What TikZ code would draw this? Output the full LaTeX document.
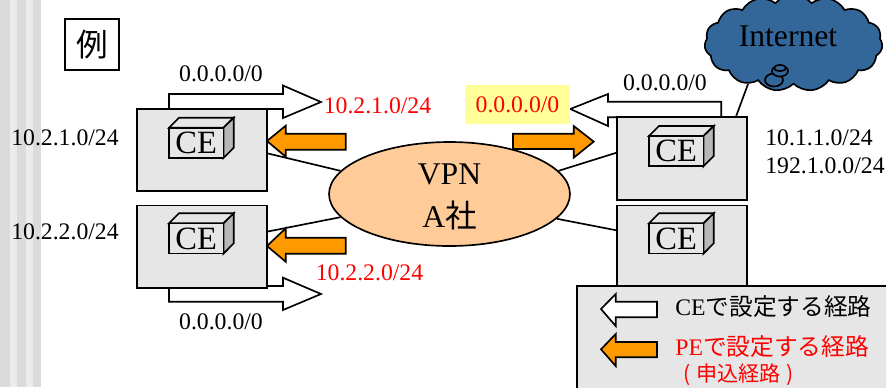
\documentclass[tikz,border=0pt]{standalone}
\usepackage{fontspec}
\setmainfont{Liberation Serif}
\newfontfamily\cjk{Noto Sans CJK JP}
\usetikzlibrary{shapes.geometric, shapes.symbols}
\definecolor{boxgray}{HTML}{E6E6E6}
\definecolor{sidegray}{HTML}{B8B8B8}
\definecolor{peorange}{HTML}{FF9900}
\definecolor{vpnpeach}{HTML}{FFCC99}
\definecolor{netblue}{HTML}{336699}
\definecolor{markyellow}{HTML}{FFFF99}
\tikzset{
    line/.style={line width=.95pt},
    site/.style={line, draw, fill=boxgray, minimum width=2.6cm, minimum height=1.65cm, inner sep=0},
    ceicon/.style={line, draw, fill=boxgray, minimum width=1.09cm, minimum height=.6cm, inner sep=0, font=\fontsize{18.5}{18}\selectfont},
    ceroute/.style={line, draw, fill=white, line join=miter},
    peroute/.style={line, draw, fill=peorange, line join=miter},
    addr/.style={inner sep=0, font=\fontsize{13.5}{16}\selectfont},
    redaddr/.style={addr, text=red},
    bigtext/.style={inner sep=0, font=\fontsize{18}{18}\selectfont},
}
\begin{document}
\begin{tikzpicture}[x=.02cm,y=-.02cm]
\useasboundingbox (0,0) rectangle (886,387);
% stripes on the left
\fill[gray!28] (0,0) rectangle (41,387);
\foreach \x in {10,26}
    \fill[gray!15] (\x,0) rectangle (\x+7,387);
\node[line, draw, minimum width=1.08cm, minimum height=1.02cm, inner sep=0, font=\cjk\fontsize{18}{18}\selectfont] (rei) at (92,44.5){例};
% routes set on the CE
\draw[ceroute] (169,112)--(169,94)--(283,94)--(283,85.5)--(321,102)--(283,118)--(283,109)--(260,109)--(260,112)--cycle;
\draw[ceroute] (169,280)--(169,301.7)--(283,301.7)--(283,310)--(321,294)--(283,277.7)--(283,286)--(260,286)--(260,280)--cycle;
\draw[ceroute] (721.3,122)--(721.3,101.7)--(608,101.7)--(608,94)--(570.3,109)--(608,126)--(608,117.3)--(630,117.3)--(630,122)--cycle;
\node[site] (pe1) at (202,150){};
\node[site] (pe2) at (202,246.7){};
\node[site] (pe3) at (682.2,158.5){};
\node[site] (pe4) at (682.2,246.7){};
\foreach \n/\x/\y in {ce1/169/127.7, ce2/169/223.3, ce3/649/136, ce4/649/223.3}{
\begin{scope}[shift={(\x,\y)}]
    \draw[line, fill=boxgray] (0,0)--(10,-10)--(64.7,-10)--(54.5,0)--cycle;
    \draw[line, fill=sidegray] (54.5,0)--(64.7,-10)--(64.7,20)--(54.5,30.3)--cycle;
    \node[ceicon] (\n) at (27.2,15.1){CE};
\end{scope}
}
\node[line, draw, fill=vpnpeach, ellipse, minimum width=4.82cm, minimum height=2.08cm, inner sep=0] (vpn) at (449.5,194){};
\node[bigtext] (vpnname) at (449.5,174){VPN};
\node[bigtext] (vpnco) at (449.5,215){A{\cjk 社}};
% access lines
\draw[line] (pe1.-3)--(vpn.168.6);
\draw[line] (pe2.13.6)--(vpn.192.3);
\draw[line] (pe3.175.6)--(vpn.12.8);
\draw[line] (pe4.166.4)--(vpn.-13);
% routes set on the PE
\draw[peroute] (267,141)--(285.7,125.7)--(285.7,133.7)--(345.7,133.7)--(345.7,149.7)--(285.7,149.7)--(285.7,156.7)--cycle;
\draw[peroute] (267,246)--(285.7,228.3)--(285.7,237.7)--(345.7,237.7)--(345.7,253.7)--(285.7,253.7)--(285.7,261.7)--cycle;
\draw[peroute] (593.7,141.6)--(573.7,126)--(573.7,133.7)--(513,133.7)--(513,149)--(573.7,149)--(573.7,157.7)--cycle;
% internet
\node[line, draw, fill=netblue, cloud, cloud puffs=15, cloud puff arc=100, aspect=1.9, minimum width=3.56cm, minimum height=1.93cm, inner sep=0] (internet) at (793.5,43){};
\node[bigtext] (internetname) at (788,36){Internet};
\draw[line] (pe3.38.7)--(internet.222.5);
\draw[line, fill=netblue] (774,80) ellipse (9 and 6.5);
\draw[line, fill=netblue] (780,71) ellipse (8 and 5.5);
\draw[line, fill=netblue] (780,68) ellipse (6 and 3);
% addresses
\node[addr] (top1) at (221,74){0.0.0.0/0};
\node[addr] (top3) at (665,83){0.0.0.0/0};
\node[addr] (bottom2) at (221,322){0.0.0.0/0};
\node[addr] (lan1) at (65,138){10.2.1.0/24};
\node[addr] (lan2) at (65,232){10.2.2.0/24};
\node[addr, anchor=west] (lan3) at (765,138){10.1.1.0/24};
\node[addr, anchor=west] (lan4) at (765,166){192.1.0.0/24};
\node[redaddr] (red1) at (377.5,106){10.2.1.0/24};
\node[redaddr] (red2) at (369.5,273){10.2.2.0/24};
\node[redaddr, fill=markyellow, minimum width=2.1cm, minimum height=.77cm] (red3) at (517.5,104.5){0.0.0.0/0};
% legend
\draw[line, fill=boxgray] (577,286) rectangle (890,392);
\draw[ceroute] (601,309)--(615.7,294)--(615.7,301.7)--(657,301.7)--(657,317.3)--(615.7,317.3)--(615.7,326)--cycle;
\draw[peroute] (601,349.3)--(615.7,334)--(615.7,342)--(657,342)--(657,357.3)--(615.7,357.3)--(615.7,366)--cycle;
\node[addr, anchor=west] (ceroutes) at (675,307){CE{\cjk で設定する経路}};
\node[redaddr, anchor=west] (peroutes) at (675,347){PE{\cjk で設定する経路}};
\node[redaddr, anchor=center, font=\cjk\fontsize{12}{16}\selectfont] (applied) at (738.5,375){(\;申込経路\;)};
\end{tikzpicture}
\end{document}
